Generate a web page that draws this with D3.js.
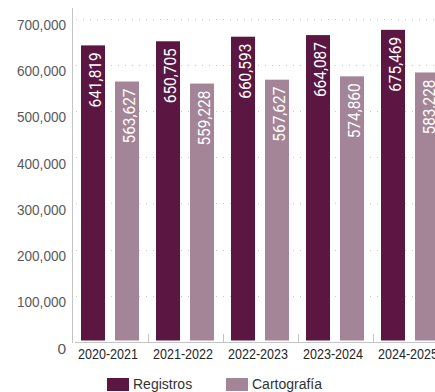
<!DOCTYPE html>
<html>
<head>
<meta charset="utf-8">
<script src="https://cdn.jsdelivr.net/npm/d3@7"></script>
<style>
  html, body { margin: 0; padding: 0; background: #fff; }
  svg { display: block; }
</style>
</head>
<body>
<svg id="chart" width="435" height="392"></svg>
<script>
const categories = ["2020-2021", "2021-2022", "2022-2023", "2023-2024", "2024-2025"];
const seriesNames = ["Registros", "Cartografía"];
const registros = [641819, 650705, 660593, 664087, 675469];
const cartografia = [563627, 559228, 567627, 574860, 583228];
const yTicks = [0, 100000, 200000, 300000, 400000, 500000, 600000, 700000];
const colors = ["#5b1742", "#a38597"];

const seriesValues = [registros, cartografia];
const svg = d3.select("#chart");
const W = 435, H = 392;

const x = d3.scaleBand().domain(categories).range([72.5, 447.5]).paddingInner(0).paddingOuter(0);
const xs = d3.scaleBand().domain(seriesNames).range([0, x.bandwidth()]).paddingInner(10 / 34).paddingOuter(0.25);
const y = d3.scaleLinear().domain([0, 700000]).range([342, 18.5]);
const fmt = d3.format(",");

// gridlines (dotted)
svg.append("g").selectAll("line").data(yTicks.filter(d => d > 0)).join("line")
  .attr("x1", 76).attr("x2", W)
  .attr("y1", d => Math.round(y(d)) + 0.5).attr("y2", d => Math.round(y(d)) + 0.5)
  .attr("stroke", "#c9c9c9").attr("stroke-width", 1).attr("stroke-dasharray", "1,6");

// y tick labels
svg.append("g").selectAll("text").data(yTicks).join("text")
  .attr("x", 66).attr("y", d => y(d) + 11.5)
  .attr("text-anchor", "end")
  .attr("font-family", "'Liberation Sans', Arial, sans-serif")
  .attr("font-size", 15.5).attr("fill", "#595959")
  .attr("textLength", d => d === 0 ? null : 49)
  .attr("lengthAdjust", "spacingAndGlyphs")
  .text(d => fmt(d));

// y axis line
svg.append("line").attr("x1", 72.5).attr("x2", 72.5).attr("y1", 8).attr("y2", 343)
  .attr("stroke", "#c4c4c4").attr("stroke-width", 1);

// bars
const groups = svg.append("g").selectAll("g").data(categories).join("g")
  .attr("transform", d => `translate(${x(d)},0)`);

groups.each(function (cat, i) {
  const g = d3.select(this);
  seriesNames.forEach((s, j) => {
    const v = seriesValues[j][i];
    const bx = xs(s);
    g.append("rect")
      .attr("x", bx).attr("width", xs.bandwidth())
      .attr("y", y(v)).attr("height", y(0) - 1.5 - y(v))
      .attr("fill", colors[j]);
    g.append("text")
      .attr("transform", `translate(${bx + xs.bandwidth() / 2 + 1.5},${y(v) + 7}) rotate(-90)`)
      .attr("text-anchor", "end")
      .attr("dominant-baseline", "central")
      .attr("font-family", "Roboto, 'DejaVu Sans Condensed', sans-serif")
      .attr("font-weight", 400)
      .attr("font-size", 17)
      .attr("textLength", 55).attr("lengthAdjust", "spacingAndGlyphs")
      .attr("fill", "#ffffff")
      .text(fmt(v));
  });
});

// x axis line and separators
svg.append("line").attr("x1", 75).attr("x2", W).attr("y1", 342.5).attr("y2", 342.5)
  .attr("stroke", "#c4c4c4").attr("stroke-width", 1);
svg.append("g").selectAll("line").data(categories.slice(1)).join("line")
  .attr("x1", d => Math.round(x(d)) + 0.5).attr("x2", d => Math.round(x(d)) + 0.5)
  .attr("y1", 334).attr("y2", 342)
  .attr("stroke", "#c4c4c4").attr("stroke-width", 1);

// x labels
svg.append("g").selectAll("text").data(categories).join("text")
  .attr("x", d => x(d) + x.bandwidth() / 2 - 2).attr("y", 359)
  .attr("text-anchor", "middle")
  .attr("font-family", "'Liberation Sans', Arial, sans-serif")
  .attr("font-size", 14).attr("fill", "#262626")
  .attr("textLength", 60).attr("lengthAdjust", "spacingAndGlyphs")
  .text(d => d);

// legend
const legendX = [107, 226];
const legend = svg.append("g").selectAll("g").data(seriesNames).join("g")
  .attr("transform", (d, i) => `translate(${legendX[i]},378)`);
legend.append("rect").attr("width", 22).attr("height", 13).attr("fill", (d, i) => colors[i]);
legend.append("text").attr("x", 26).attr("y", 11)
  .attr("font-family", "'Liberation Sans', Arial, sans-serif")
  .attr("font-size", 14).attr("fill", "#333")
  .text(d => d);
</script>
</body>
</html>
